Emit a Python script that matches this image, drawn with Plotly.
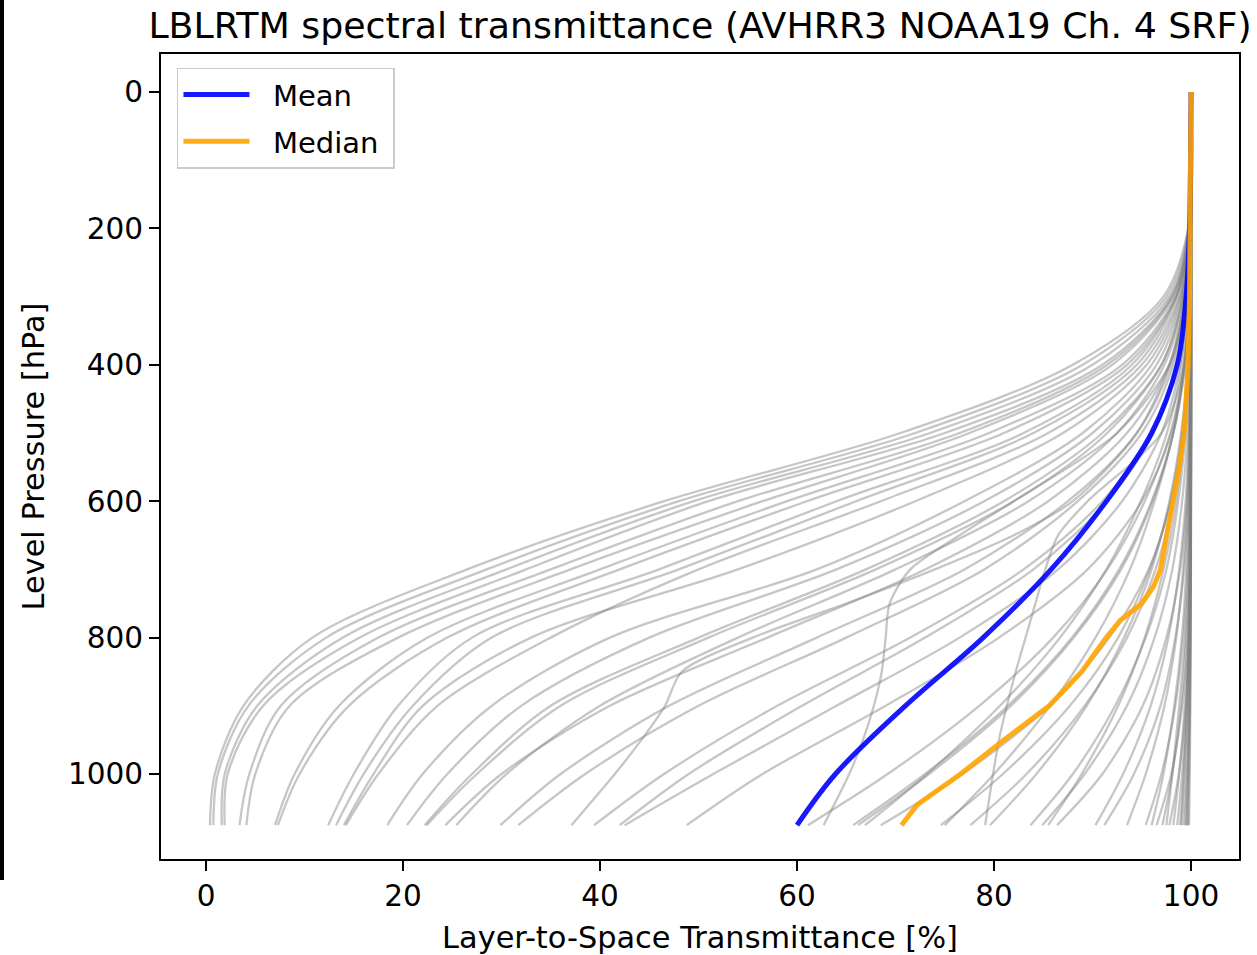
import plotly.graph_objects as go

# Pressure levels [hPa]
P_COARSE = [0, 200, 300, 400, 500, 600, 700, 800, 900, 1000, 1075]
P_FINE = [0, 200, 300, 400, 500, 600, 650, 700, 750, 800, 850, 900, 950, 1000, 1075]
P_MEAN = [0, 100, 200, 300, 400, 500, 600, 700, 800, 900, 1000, 1075]
P_MEDIAN = [0, 200, 300, 400, 500, 550, 600, 650, 700, 725, 750, 775, 800, 850, 900, 950, 1000, 1045, 1075]

# Individual profile transmittances [%] on P_COARSE
profiles_moist = [
    [100, 99.7, 97.2, 88.0, 70.5, 46.5, 26.5, 10.8, 3.8, 0.9, 0.4],
    [100, 99.75, 97.5, 89.0, 72.0, 48.0, 28.5, 12.2, 4.3, 1.2, 0.75],
    [100, 99.8, 97.8, 90.0, 73.5, 49.5, 30.5, 13.9, 5.2, 1.9, 1.6],
    [100, 99.8, 98.0, 91.0, 75.0, 51.0, 32.5, 15.6, 5.8, 2.2, 1.9],
    [100, 99.8, 98.1, 91.5, 76.5, 54.0, 35.0, 17.5, 7.6, 4.4, 3.4],
    [100, 99.8, 98.2, 92.0, 77.5, 56.5, 37.0, 19.5, 8.5, 5.0, 4.1],
    [100, 99.8, 98.4, 93.0, 79.5, 59.0, 40.0, 22.5, 13.5, 9.0, 7.0],
    [100, 99.85, 98.5, 93.5, 81.0, 61.0, 42.0, 24.5, 14.5, 9.5, 7.3],
    [100, 99.8, 98.5, 94.0, 83.0, 64.0, 46.0, 27.0, 19.5, 15.0, 12.4],
    [100, 99.8, 98.6, 94.5, 84.0, 66.0, 48.0, 29.0, 21.0, 16.0, 13.2],
    [100, 99.85, 98.9, 95.5, 87.0, 72.0, 54.0, 33.0, 22.0, 17.0, 14.0],
    [100, 99.85, 98.8, 95.0, 85.5, 68.5, 50.0, 35.0, 23.5, 17.5, 14.2],
    [100, 99.85, 99.0, 96.0, 89.0, 77.0, 62.0, 41.0, 29.0, 22.0, 18.4],
    [100, 99.85, 99.1, 96.5, 90.0, 79.0, 64.0, 45.0, 32.0, 24.5, 20.4],
    [100, 99.9, 99.2, 97.0, 91.0, 81.0, 67.0, 50.0, 35.0, 27.0, 22.2],
    [100, 99.9, 99.2, 97.0, 91.5, 82.0, 68.0, 51.0, 36.0, 27.5, 22.4],
    [100, 99.9, 99.4, 97.8, 93.5, 85.5, 73.0, 57.0, 41.0, 30.0, 24.3],
    [100, 99.9, 99.3, 97.3, 92.5, 83.5, 70.0, 54.0, 40.0, 30.5, 25.4],
    [100, 99.9, 99.4, 98.0, 94.5, 87.5, 77.0, 62.0, 47.0, 36.0, 29.9],
    [100, 99.9, 99.5, 98.2, 95.0, 88.5, 79.0, 65.0, 50.0, 38.5, 31.7],
    [100, 99.9, 99.6, 98.5, 96.0, 91.0, 83.0, 71.5, 58.0, 46.5, 39.4],
    [100, 99.9, 99.6, 98.6, 96.2, 91.5, 84.0, 73.0, 60.5, 49.0, 42.0],
    [100, 99.95, 99.7, 98.9, 97.0, 93.0, 86.5, 76.5, 64.0, 51.5, 42.5],
    [100, 99.95, 99.8, 99.3, 98.0, 95.0, 89.5, 80.5, 69.0, 56.5, 48.8],
]

profiles_dry = [
    [100, 99.95, 99.85, 99.3, 97.9, 95.3, 91.5, 86.0, 78.5, 69.2, 61.1],
    [100, 99.95, 99.88, 99.4, 98.2, 96.0, 92.7, 87.9, 81.4, 73.0, 65.7],
    [100, 99.95, 99.88, 99.4, 98.2, 96.1, 92.9, 88.1, 81.7, 73.4, 66.2],
    [100, 99.97, 99.8, 99.05, 97.55, 94.9, 91.4, 86.7, 80.6, 73.2, 66.9],
    [100, 99.99, 99.94, 99.73, 99.18, 97.97, 95.7, 91.7, 85.6, 76.8, 68.5],
    [100, 99.98, 99.9, 99.66, 99.07, 97.9, 95.8, 92.6, 87.7, 80.9, 74.6],
    [100, 99.98, 99.85, 99.3, 98.2, 96.3, 93.8, 90.3, 85.7, 80.0, 75.0],
    [100, 99.99, 99.92, 99.7, 99.2, 98.2, 96.4, 93.5, 89.2, 83.3, 77.6],
    [100, 99.97, 99.93, 99.7, 99.0, 97.8, 96.0, 93.2, 89.4, 84.3, 79.6],
    [100, 99.99, 99.94, 99.79, 99.44, 98.7, 97.5, 95.4, 92.3, 88.0, 83.7],
    [100, 100, 99.97, 99.88, 99.64, 99.1, 98.1, 96.3, 93.5, 89.2, 84.9],
    [100, 99.98, 99.95, 99.8, 99.3, 98.5, 97.2, 95.3, 92.6, 88.9, 85.5],
    [100, 100, 99.99, 99.96, 99.85, 99.56, 98.9, 97.5, 95.1, 91.0, 86.4],
    [100, 100, 99.98, 99.93, 99.78, 99.45, 98.8, 97.7, 95.9, 93.1, 90.3],
    [100, 100, 100, 99.98, 99.91, 99.72, 99.3, 98.4, 96.9, 94.2, 91.2],
    [100, 100, 99.99, 99.95, 99.85, 99.64, 99.2, 98.5, 97.3, 95.4, 93.5],
    [100, 100, 100, 99.99, 99.95, 99.86, 99.64, 99.2, 98.4, 97.0, 95.4],
    [100, 100, 100, 99.97, 99.91, 99.78, 99.52, 99.07, 98.3, 97.2, 96.0],
    [100, 100, 100, 100, 99.99, 99.97, 99.88, 99.67, 99.1, 98.0, 96.5],
    [100, 100, 100, 99.99, 99.97, 99.91, 99.78, 99.5, 99.0, 98.1, 97.1],
    [100, 100, 100, 100, 99.99, 99.98, 99.93, 99.79, 99.47, 98.76, 97.8],
    [100, 100, 100, 100, 99.99, 99.96, 99.89, 99.76, 99.52, 99.09, 98.6],
    [100, 100, 100, 100, 99.99, 99.98, 99.94, 99.86, 99.72, 99.48, 99.2],
    [100, 100, 100, 100, 100, 99.99, 99.96, 99.92, 99.83, 99.68, 99.5],
    [100, 100, 100, 100, 100, 99.99, 99.98, 99.95, 99.9, 99.8, 99.7],
    [100, 100, 100, 100, 99.99, 99.97, 99.9, 99.7, 99.35, 98.8, 98.2],
    [100, 100, 100, 100, 100, 99.98, 99.93, 99.82, 99.6, 99.25, 98.9],
    [100, 100, 100, 100, 99.99, 99.97, 99.92, 99.8, 99.6, 99.3, 99.0],
    [100, 100, 100, 100, 100, 99.99, 99.96, 99.9, 99.8, 99.6, 99.4],
    [100, 100, 100, 100, 100, 99.99, 99.97, 99.93, 99.85, 99.72, 99.6],
    [100, 100, 100, 100, 100, 100, 99.99, 99.97, 99.93, 99.87, 99.8],
    [100, 100, 100, 99.99, 99.97, 99.9, 99.75, 99.4, 98.8, 98.1, 97.5],
]

# Profiles with irregular structure, on P_FINE
profiles_irregular = [
    [100, 99.9, 99.5, 97.8, 92.5, 82.0, 76.5, 71.5, 69.4, 69.0, 68.6, 67.8, 66.7, 65.3, 62.7],
    [100, 99.9, 99.4, 97.8, 94.5, 88.0, 82.0, 74.0, 65.0, 55.5, 48.3, 46.6, 44.2, 41.5, 37.1],
    [100, 99.95, 99.8, 99.3, 97.0, 89.5, 86.5, 85.2, 84.2, 83.2, 82.2, 81.3, 80.5, 79.9, 79.1],
]

mean_vals = [100, 99.95, 99.85, 99.5, 98.6, 96.0, 91.4, 85.8, 78.9, 71.0, 63.9, 60.0]
median_vals = [100, 99.95, 99.85, 99.7, 99.3, 98.8, 98.2, 97.5, 96.9, 96.2, 95.0, 92.8,
               91.4, 88.9, 85.6, 81.0, 76.6, 72.2, 70.6]

GRAY = "rgba(128,128,128,0.45)"
GRAY_W = 2.3

fig = go.Figure()
for prof in profiles_moist + profiles_dry:
    fig.add_trace(go.Scatter(x=prof, y=P_COARSE, mode="lines",
                             line=dict(color=GRAY, width=GRAY_W, shape="spline", smoothing=0.9),
                             showlegend=False, hoverinfo="skip"))
for prof in profiles_irregular:
    fig.add_trace(go.Scatter(x=prof, y=P_FINE, mode="lines",
                             line=dict(color=GRAY, width=GRAY_W, shape="spline", smoothing=0.8),
                             showlegend=False, hoverinfo="skip"))

fig.add_trace(go.Scatter(x=mean_vals, y=P_MEAN, mode="lines", name="  Mean",
                         legendgroup="mean",
                         line=dict(color="rgba(0,0,255,0.9)", width=5, shape="spline", smoothing=1.0)))
fig.add_trace(go.Scatter(x=median_vals, y=P_MEDIAN, mode="lines", name="  Median ",
                         legendgroup="median",
                         line=dict(color="rgba(255,165,0,0.9)", width=5)))

FONT = "DejaVu Sans"

fig.update_layout(
    width=1257, height=955,
    margin=dict(l=161, r=18, t=54, b=96),
    paper_bgcolor="white", plot_bgcolor="white",
    font=dict(family=FONT, size=30, color="black"),
    title=dict(text="LBLRTM spectral transmittance (AVHRR3 NOAA19 Ch. 4 SRF)",
               font=dict(family=FONT, size=36.3, color="black"),
               x=0.5, xref="paper", xanchor="center",
               y=1 - 25 / 955, yref="container", yanchor="middle"),
    legend=dict(x=0.0148, y=0.983, xanchor="left", yanchor="top",
                bgcolor="white", bordercolor="#cccccc", borderwidth=1.5,
                font=dict(family=FONT, size=29, color="black"),
                itemwidth=66, traceorder="grouped", tracegroupgap=6),
    xaxis=dict(range=[-4.57, 104.87], tickvals=[0, 20, 40, 60, 80, 100],
               ticks="outside", ticklen=10, tickwidth=1.8, tickcolor="black",
               showline=True, linecolor="black", linewidth=2, mirror=True,
               showgrid=False, zeroline=False, automargin=False,
               tickfont=dict(family=FONT, size=29.5, color="black"),
               title=dict(text="Layer-to-Space Transmittance [%]", standoff=16,
                          font=dict(family=FONT, size=30.4, color="black"))),
    yaxis=dict(range=[1124.6, -55.7], tickvals=[0, 200, 400, 600, 800, 1000],
               ticks="outside", ticklen=10, tickwidth=1.8, tickcolor="black",
               showline=True, linecolor="black", linewidth=2, mirror=True,
               showgrid=False, zeroline=False, automargin=False,
               ticksuffix="\u2009",
               tickfont=dict(family=FONT, size=29.5, color="black"),
               title=dict(text="Level Pressure [hPa]", standoff=14,
                          font=dict(family=FONT, size=30.4, color="black"))),
)

# dark strip at the far left edge of the image
fig.add_shape(type="rect", xref="paper", yref="paper",
              x0=-161 / 1078, x1=-157 / 1078, y0=-21 / 805, y1=859 / 805,
              fillcolor="black", line=dict(width=0), layer="above")

fig.write_html("out.html")
